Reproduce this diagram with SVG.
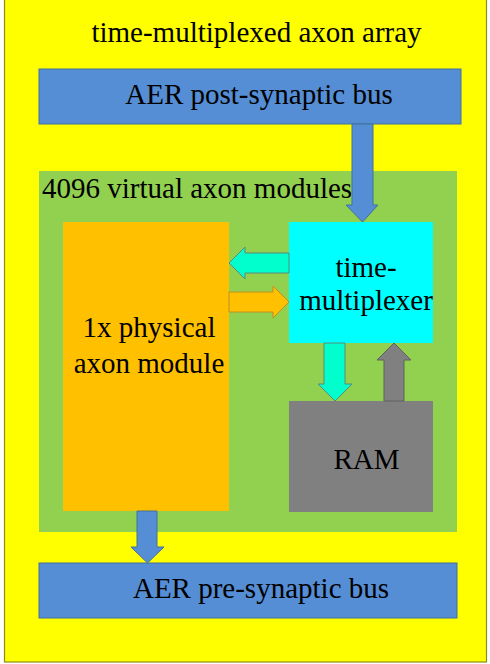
<svg xmlns="http://www.w3.org/2000/svg" width="490" height="664" viewBox="0 0 490 664">
<style>
text{font-family:"Liberation Serif","Times New Roman",serif;font-size:29px;fill:#000}
.mid{text-anchor:middle}
.bus{fill:#558ED5;stroke:#41719C;stroke-width:1}
</style>
<rect width="490" height="664" fill="#ffffff"/>
<g id="array">
<rect x="4.5" y="-2" width="482" height="664" fill="#FFFF00" stroke="#8C8C1A" stroke-width="1.2"/>
<text class="mid" x="256.5" y="42">time-multiplexed axon array</text>
</g>
<g id="post-bus">
<rect class="bus" x="39" y="69" width="422" height="55"/>
<text class="mid" x="259" y="104">AER post-synaptic bus</text>
</g>
<g id="virtual-modules">
<rect x="39" y="171" width="418" height="361" fill="#92D050"/>
<text x="42" y="198">4096 virtual axon modules</text>
</g>
<g id="physical-module">
<rect x="63" y="222" width="166" height="289" fill="#FFC000"/>
<text class="mid" x="149" y="337">1x physical</text>
<text class="mid" x="149" y="373">axon module</text>
</g>
<g id="time-multiplexer">
<rect x="289" y="222" width="144" height="121" fill="#00FFFF"/>
<text class="mid" x="366" y="277">time-</text>
<text class="mid" x="366" y="310">multiplexer</text>
</g>
<g id="ram">
<rect x="289" y="401" width="144" height="111" fill="#808080"/>
<text class="mid" x="366.5" y="469">RAM</text>
</g>
<g id="pre-bus">
<rect class="bus" x="39" y="563" width="418" height="55"/>
<text class="mid" x="261" y="598">AER pre-synaptic bus</text>
</g>
<g id="connectors">
<polygon points="352,124 373,124 373,205 378,205 362.5,222 346,205 352,205" fill="#558ED5" stroke="#41719C" stroke-width="1"/>
<polygon points="289,253 245,253 245,247 229,263 245,279 245,273 289,273" fill="#00FFCC" stroke="#5A8A7A" stroke-width="1"/>
<polygon points="229,292 273,292 273,286 289,302 273,318 273,312 229,312" fill="#FFC000" stroke="#C09020" stroke-width="1"/>
<polygon points="324,343 345,343 345,384 352,384 335,401 318,384 324,384" fill="#00FFCC" stroke="#5A8A7A" stroke-width="1"/>
<polygon points="384,401 404,401 404,360 411,360 394,343 377,360 384,360" fill="#808080" stroke="#606060" stroke-width="1"/>
<polygon points="137,511 157,511 157,547 164,547 147.5,563 131,547 137,547" fill="#558ED5" stroke="#41719C" stroke-width="1"/>
</g>
</svg>
